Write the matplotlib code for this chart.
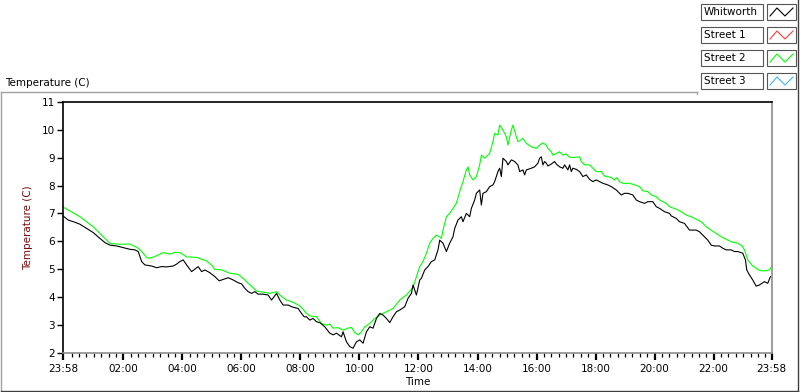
import matplotlib
matplotlib.use("Agg")
import matplotlib.pyplot as plt
from matplotlib.lines import Line2D
from matplotlib.patches import Rectangle

# time in hours after midnight (chart runs 23:58 -> 23:58), temperature in C
whitworth_hours = [
    -0.033, 0.136, 0.363, 0.532, 0.759, 0.982, 1.209, 1.378, 1.548, 1.774,
    1.998, 2.225, 2.394, 2.506, 2.621, 2.732, 2.959, 3.128, 3.298, 3.467,
    3.690, 3.806, 3.917, 4.029, 4.144, 4.313, 4.537, 4.652, 4.764, 4.933,
    5.102, 5.248, 5.383, 5.552, 5.722, 5.891, 6.006, 6.118, 6.229, 6.344,
    6.456, 6.568, 6.737, 6.906, 7.022, 7.191, 7.302, 7.414, 7.583, 7.753,
    7.922, 8.037, 8.125, 8.206, 8.318, 8.430, 8.545, 8.657, 8.826, 8.995,
    9.107, 9.222, 9.391, 9.445, 9.560, 9.672, 9.784, 9.899, 10.011, 10.122,
    10.237, 10.349, 10.461, 10.576, 10.688, 10.799, 10.914, 11.026, 11.138, 11.253,
    11.365, 11.534, 11.646, 11.761, 11.815, 11.930, 12.042, 12.099, 12.211, 12.323,
    12.438, 12.550, 12.661, 12.719, 12.830, 12.946, 13.057, 13.169, 13.227, 13.338,
    13.453, 13.508, 13.623, 13.734, 13.792, 13.904, 13.961, 14.073, 14.130, 14.185,
    14.300, 14.411, 14.523, 14.581, 14.692, 14.750, 14.807, 14.862, 14.977, 15.031,
    15.146, 15.258, 15.369, 15.427, 15.539, 15.596, 15.654, 15.823, 15.935, 16.046,
    16.104, 16.162, 16.216, 16.273, 16.331, 16.385, 16.500, 16.612, 16.669, 16.781,
    16.893, 16.950, 17.062, 17.120, 17.177, 17.231, 17.346, 17.458, 17.570, 17.685,
    17.797, 17.908, 18.023, 18.135, 18.247, 18.416, 18.531, 18.701, 18.870, 18.982,
    19.093, 19.263, 19.378, 19.489, 19.659, 19.770, 19.940, 20.054, 20.166, 20.335,
    20.505, 20.562, 20.731, 20.843, 21.012, 21.182, 21.409, 21.520, 21.689, 21.801,
    21.916, 22.028, 22.197, 22.309, 22.424, 22.593, 22.705, 22.817, 22.986, 23.077,
    23.121, 23.213, 23.325, 23.440, 23.551, 23.721, 23.832, 23.924,
]
whitworth_temp = [
    6.90, 6.76, 6.68, 6.61, 6.46, 6.31, 6.10, 5.95, 5.86, 5.83,
    5.77, 5.71, 5.69, 5.63, 5.27, 5.15, 5.11, 5.05, 5.09, 5.08,
    5.11, 5.18, 5.27, 5.33, 5.15, 4.91, 5.09, 4.91, 4.97, 4.87,
    4.73, 4.58, 4.63, 4.69, 4.61, 4.51, 4.47, 4.31, 4.19, 4.13,
    4.19, 4.10, 4.10, 4.07, 3.89, 4.13, 3.89, 3.71, 3.71, 3.63,
    3.59, 3.41, 3.29, 3.29, 3.17, 3.23, 3.11, 3.08, 2.93, 2.70,
    2.64, 2.70, 2.57, 2.75, 2.39, 2.22, 2.16, 2.39, 2.46, 2.34,
    2.75, 2.93, 2.88, 3.23, 3.41, 3.35, 3.23, 3.08, 3.29, 3.47,
    3.53, 3.65, 3.95, 4.13, 4.43, 4.07, 4.61, 4.67, 4.97, 5.09,
    5.27, 5.33, 5.69, 6.04, 5.93, 5.63, 5.93, 6.16, 6.46, 6.76,
    6.88, 6.70, 7.00, 6.88, 7.18, 7.48, 7.72, 7.84, 7.30, 7.72,
    7.78, 7.96, 8.02, 8.14, 8.50, 8.62, 8.32, 8.98, 8.86, 8.74,
    8.92, 8.86, 8.74, 8.50, 8.56, 8.38, 8.56, 8.62, 8.67, 8.80,
    8.98, 9.03, 8.74, 8.86, 8.80, 8.70, 8.77, 8.86, 8.77, 8.67,
    8.62, 8.74, 8.56, 8.74, 8.50, 8.62, 8.58, 8.50, 8.32, 8.38,
    8.22, 8.14, 8.20, 8.14, 8.08, 8.02, 7.96, 7.84, 7.66, 7.72,
    7.72, 7.66, 7.48, 7.42, 7.36, 7.42, 7.42, 7.24, 7.18, 7.06,
    7.00, 6.91, 6.82, 6.70, 6.64, 6.40, 6.40, 6.34, 6.16, 6.04,
    5.86, 5.83, 5.83, 5.75, 5.69, 5.69, 5.63, 5.63, 5.57, 5.33,
    4.97, 4.79, 4.61, 4.39, 4.43, 4.55, 4.49, 4.73,
]

street2_hours = [
    -0.033, 0.305, 0.532, 0.759, 0.982, 1.209, 1.436, 1.548, 1.886, 2.225,
    2.506, 2.675, 2.790, 2.902, 3.128, 3.352, 3.579, 3.748, 3.917, 4.144,
    4.483, 4.821, 4.990, 5.102, 5.329, 5.610, 5.891, 6.060, 6.229, 6.344,
    6.514, 6.737, 6.964, 7.191, 7.302, 7.529, 7.753, 7.979, 8.115, 8.149,
    8.318, 8.545, 8.714, 8.883, 8.995, 9.107, 9.276, 9.445, 9.615, 9.730,
    9.841, 9.953, 10.068, 10.180, 10.349, 10.518, 10.688, 10.914, 11.138, 11.365,
    11.591, 11.815, 11.984, 12.042, 12.153, 12.269, 12.380, 12.492, 12.607, 12.719,
    12.776, 12.830, 12.946, 13.057, 13.169, 13.284, 13.396, 13.508, 13.623, 13.677,
    13.734, 13.846, 13.961, 14.073, 14.130, 14.242, 14.411, 14.523, 14.581, 14.692,
    14.750, 14.862, 14.977, 15.031, 15.146, 15.200, 15.315, 15.369, 15.539, 15.654,
    15.823, 15.992, 16.104, 16.216, 16.331, 16.385, 16.500, 16.554, 16.669, 16.781,
    16.893, 17.008, 17.120, 17.346, 17.458, 17.516, 17.627, 17.797, 17.908, 18.023,
    18.193, 18.304, 18.531, 18.643, 18.721, 18.812, 18.924, 19.151, 19.320, 19.489,
    19.601, 19.770, 19.885, 20.054, 20.166, 20.393, 20.505, 20.731, 20.901, 21.070,
    21.239, 21.409, 21.578, 21.747, 21.916, 22.086, 22.255, 22.424, 22.593, 22.817,
    22.966, 23.044, 23.155, 23.325, 23.494, 23.609, 23.778, 23.890, 23.947,
]
street2_temp = [
    7.22, 7.02, 6.88, 6.70, 6.52, 6.28, 6.04, 5.92, 5.89, 5.90,
    5.75, 5.57, 5.41, 5.39, 5.48, 5.59, 5.54, 5.60, 5.59, 5.44,
    5.42, 5.29, 5.15, 4.99, 4.97, 4.85, 4.81, 4.67, 4.49, 4.39,
    4.21, 4.17, 4.13, 4.19, 4.07, 3.89, 3.81, 3.68, 3.53, 3.47,
    3.32, 3.29, 3.05, 2.99, 3.03, 2.88, 2.90, 2.81, 2.88, 2.91,
    2.72, 2.64, 2.75, 2.93, 3.05, 3.23, 3.35, 3.47, 3.59, 3.89,
    4.07, 4.35, 4.91, 5.09, 5.27, 5.57, 5.93, 6.10, 6.22, 6.16,
    6.10, 6.40, 6.88, 7.00, 7.18, 7.36, 7.78, 8.14, 8.56, 8.67,
    8.38, 8.20, 8.32, 8.74, 9.09, 8.98, 9.15, 9.57, 9.87, 9.81,
    10.17, 9.99, 9.75, 9.45, 9.99, 10.17, 9.75, 9.57, 9.69, 9.51,
    9.39, 9.33, 9.45, 9.53, 9.45, 9.33, 9.21, 9.09, 9.15, 9.21,
    9.09, 9.13, 9.01, 9.01, 9.03, 8.86, 8.74, 8.74, 8.62, 8.50,
    8.50, 8.34, 8.29, 8.20, 8.28, 8.14, 8.08, 8.08, 8.02, 7.96,
    7.81, 7.78, 7.66, 7.60, 7.48, 7.36, 7.24, 7.15, 7.06, 6.94,
    6.88, 6.79, 6.70, 6.52, 6.40, 6.28, 6.16, 6.07, 5.98, 5.93,
    5.83, 5.69, 5.33, 5.11, 4.99, 4.94, 4.94, 4.97, 5.06,
]

legend_names = ["Whitworth", "Street 1", "Street 2", "Street 3"]
legend_colors = ["#000000", "#ff3c3c", "#00ff00", "#3cb4ff"]

x_start = -2 / 60
x_end = 23 + 58 / 60
x_tick_pos = [x_start, 2, 4, 6, 8, 10, 12, 14, 16, 18, 20, 22, x_end]
x_tick_labels = ["23:58", "02:00", "04:00", "06:00", "08:00", "10:00", "12:00",
                 "14:00", "16:00", "18:00", "20:00", "22:00", "23:58"]
y_ticks = [2, 3, 4, 5, 6, 7, 8, 9, 10, 11]

plt.rcParams['font.family'] = ['DejaVu Sans']
plt.rcParams['font.size'] = 7.5

W, H = 800, 392
fig = plt.figure(figsize=(W / 100, H / 100), dpi=100)
fig.patch.set_facecolor("white")


def fx(px):
    return px / W


def fy(py):
    return 1 - py / H


# plot area
ax = fig.add_axes([fx(63.3), fy(352.7), fx(771.7) - fx(63.3), fy(101.9) - fy(352.7)])
ax.plot(street2_hours, street2_temp, color="#00ff00", lw=0.8)
ax.plot(whitworth_hours, whitworth_temp, color="black", lw=0.8)

ax.set_xlim(x_start, x_end)
ax.set_ylim(2, 11)
ax.set_xticks(x_tick_pos)
ax.set_xticklabels(x_tick_labels)
minor = [q / 4 for q in range(1, 96) if q % 8 != 0]
ax.set_xticks(minor, minor=True)
ax.set_yticks(y_ticks)

ax.tick_params(axis="x", which="major", direction="out", length=5, width=1.6, pad=3, colors="black")
ax.tick_params(axis="x", which="minor", direction="out", length=3, width=0.9)
ax.tick_params(axis="y", which="major", direction="out", length=4, width=1, pad=2)

for side in ["top", "left"]:
    ax.spines[side].set_color("black")
    ax.spines[side].set_linewidth(1.2)
for side in ["right", "bottom"]:
    ax.spines[side].set_color("#8c8c8c")
    ax.spines[side].set_linewidth(1.2)

ax.set_xlabel("Time", labelpad=2)
ax.set_ylabel("Temperature (C)", color="#7a0a0a", labelpad=6)

# chart caption above the frame
fig.text(fx(5), fy(82.5), "Temperature (C)", ha="left", va="center")

# outer chart frame
frame_light = "#a0a0a0"
frame_dark = "#404040"
fig.add_artist(Line2D([fx(1), fx(697)], [fy(92), fy(92)], color=frame_light, lw=1))
fig.add_artist(Line2D([fx(697), fx(697)], [fy(92), fy(94)], color=frame_light, lw=1))
fig.add_artist(Line2D([fx(1), fx(1)], [fy(92), fy(390.5)], color=frame_light, lw=1))
fig.add_artist(Line2D([fx(1), fx(798)], [fy(390.5), fy(390.5)], color=frame_dark, lw=1))
fig.add_artist(Line2D([fx(798), fx(798)], [fy(0), fy(390.5)], color=frame_dark, lw=1))

# LabVIEW style plot legend
row_tops = [4, 27, 50, 73]
for name, color, top in zip(legend_names, legend_colors, row_tops):
    h = 16
    fig.add_artist(Rectangle((fx(701), fy(top + h)), fx(62), h / H,
                             transform=fig.transFigure, fill=False,
                             edgecolor="#555555", lw=0.8))
    fig.text(fx(704), fy(top + h / 2), name, ha="left", va="center")
    fig.add_artist(Rectangle((fx(767), fy(top + h)), fx(29), h / H,
                             transform=fig.transFigure, fill=False,
                             edgecolor="#555555", lw=0.8))
    zx = [770, 777, 785, 793]
    zy = [top + 12, top + 4, top + 12, top + 4]
    fig.add_artist(Line2D([fx(v) for v in zx], [fy(v) for v in zy],
                          color=color, lw=0.8))

fig.savefig("out.png", dpi=100)
